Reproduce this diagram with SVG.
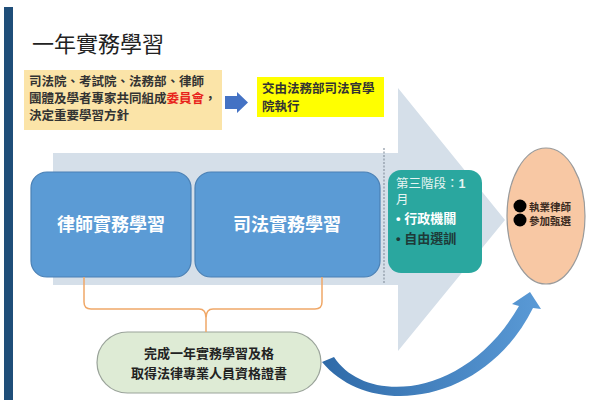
<svg xmlns="http://www.w3.org/2000/svg" width="600" height="400" viewBox="0 0 600 400">
<style>
text{font-family:"Liberation Sans","Noto Sans CJK TC",sans-serif;}
.t{font-weight:bold;fill:#333;font-size:12.5px;}
.bx{fill:#5b9bd5;stroke:#4a80b5;stroke-width:1.2;}
.bxt{fill:#fff;font-size:18px;font-weight:bold;text-anchor:middle;}
</style>
<defs>
<linearGradient id="cg" x1="0" y1="0" x2="1" y2="0">
<stop offset="0" stop-color="#2f6aa8"/>
<stop offset="1" stop-color="#5a9ad6"/>
</linearGradient>
</defs>
<rect width="600" height="400" fill="#fff"/>
<rect x="4" y="7" width="9" height="393" fill="#1f4e79"/>
<text x="32" y="52" font-size="22" fill="#222">一年實務學習</text>

<g id="bigarrow">
<polygon points="53,153 398,153 398,88 505,220 398,351 398,285 53,285" fill="#d5dfe9"/>
<line x1="384" y1="148" x2="384" y2="283" stroke="#8a96a3" stroke-width="1.2" stroke-dasharray="2,1.5"/>
</g>

<g id="committee">
<rect x="24" y="70" width="198" height="60" fill="#fbe4a8"/>
<text class="t" x="29" y="86">司法院、考試院、法務部、律師</text>
<text class="t" x="29" y="103">團體及學者專家共同組成<tspan fill="#e8231b">委員會</tspan>，</text>
<text class="t" x="29" y="120">決定重要學習方針</text>
</g>

<g id="academy">
<rect x="257" y="77" width="127" height="40" fill="#ffff00"/>
<text class="t" x="262" y="93">交由法務部司法官學</text>
<text class="t" x="262" y="111">院執行</text>
</g>

<g id="lawyer">
<rect class="bx" x="31" y="172" width="160" height="105" rx="16"/>
<text class="bxt" x="111" y="231">律師實務學習</text>
</g>

<g id="judicial">
<rect class="bx" x="195" y="172" width="185" height="105" rx="16"/>
<text class="bxt" x="287" y="231">司法實務學習</text>
</g>

<g id="stage3">
<rect x="388" y="170" width="94" height="103" rx="13" fill="#2aa79f"/>
<text x="396" y="188" font-size="12.5" fill="#e6f4f2">第三階段：<tspan font-weight="bold">1</tspan></text>
<text x="396" y="204" font-size="12.5" fill="#e6f4f2">月</text>
<text x="396" y="223" font-size="13" font-weight="bold" fill="#fff">• 行政機關</text>
<text x="396" y="243" font-size="13" font-weight="bold" fill="#1e3a38">• 自由選訓</text>
</g>

<g id="exam">
<ellipse cx="546" cy="216" rx="39" ry="68" fill="#f8c8a4" stroke="#9a9a9a" stroke-width="1.2"/>
<circle cx="520" cy="206" r="6.5" fill="#000"/>
<circle cx="520" cy="220" r="6.5" fill="#000"/>
<text x="529" y="211" font-size="10.5" font-weight="bold" fill="#3a2a20">執業律師</text>
<text x="529" y="225" font-size="10.5" font-weight="bold" fill="#3a2a20">參加甄選</text>
</g>

<g id="certificate">
<rect x="97" y="332" width="224" height="61" rx="30.5" fill="#deebd5" stroke="#9aa39a" stroke-width="1.2"/>
<text x="209" y="358" font-size="13" font-weight="bold" fill="#222" text-anchor="middle">完成一年實務學習及格</text>
<text x="209" y="378" font-size="13" font-weight="bold" fill="#222" text-anchor="middle">取得法律專業人員資格證書</text>
</g>

<g id="connectors">
<polygon points="225,96 237,96 237,92 248,102.5 237,113 237,109 225,109" fill="#4472c4"/>
<path d="M84 277 V302 Q84 309 91 309 H199 Q206 309 206 318 V332 M206 318 Q206 309 213 309 H315 Q322 309 322 302 V277" fill="none" stroke="#f0a868" stroke-width="1.5"/>
<path d="M322 362 L334 357 C365 405 465 400 519 306 L512 304 L530 292 L541 309 L533 308 C485 405 370 420 322 362 Z" fill="url(#cg)"/>
</g>
</svg>
